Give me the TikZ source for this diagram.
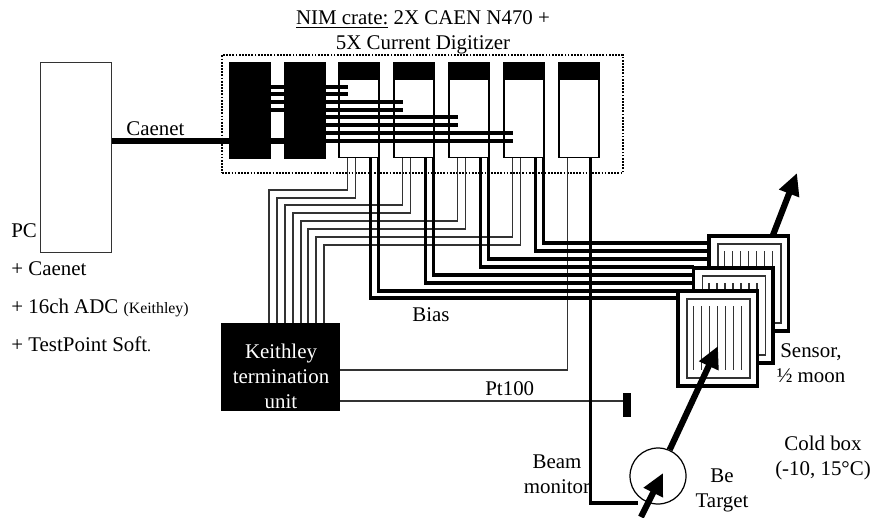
\documentclass[tikz,border=0pt]{standalone}
\usepackage{fontspec}
\setmainfont{Liberation Serif}
\usetikzlibrary{arrows.meta}
\newcommand{\moonstrips}{\draw[readwire] (15.5,15) -- (15.5,79) (23.5,15) -- (23.5,79) (31.5,15) -- (31.5,79) (39.5,15) -- (39.5,79) (47.5,15) -- (47.5,79) (55.5,15) -- (55.5,79) (63.5,15) -- (63.5,79);}
\tikzset{
  lbl/.style={inner sep=0pt,align=center,font=\fontsize{11.9}{14.2}\selectfont},
  lft/.style={inner sep=0pt,anchor=base west,font=\fontsize{11.9}{14.2}\selectfont},
  readwire/.style={line width=0.7pt,black!80},
  biaswire/.style={line width=1.85pt,black},
  busbar/.style={line width=1.85pt,black},
  caenet/.style={line width=3pt,black},
  beam/.style={line width=3.5pt,-{Triangle[length=12.5pt,width=11.5pt]}},
  blackmod/.style={draw,fill=black,inner sep=0pt,minimum width=0.82cm,minimum height=1.92cm},
  whitemod/.style={draw,line width=0.7pt,fill=white,inner sep=0pt,minimum width=0.8cm,minimum height=1.9cm},
  modhead/.style={fill=black,inner sep=0pt,minimum width=0.82cm,minimum height=0.36cm},
  outerpad/.style={draw,line width=1.85pt,fill=white,inner sep=0pt,minimum width=1.59cm,minimum height=1.9cm},
  innerpad/.style={draw,line width=0.7pt,black!80,inner sep=0pt,minimum width=1.26cm,minimum height=1.58cm}
}

\begin{document}
\begin{tikzpicture}[x=0.02cm,y=-0.02cm]

\useasboundingbox (0,0) rectangle (874,517);

\node[draw,line width=0.8pt,dash pattern=on 1pt off 0.8pt,inner sep=0pt,minimum width=8.02cm,minimum height=2.36cm] (crate) at (422.5,114) {};

\node[draw,line width=0.7pt,black!80,inner sep=0pt,minimum width=1.42cm,minimum height=3.79cm] (pc) at (76,157.5) {};

\node[blackmod] (m1) at (249.5,110) {};
\node[blackmod] (m2) at (304.5,110) {};

\node[whitemod] (m3) at (359,110) {};
\node[whitemod] (m4) at (414,110) {};
\node[whitemod] (m5) at (469,110) {};
\node[whitemod] (m6) at (524,110) {};
\node[whitemod] (m7) at (579,110) {};

\node[modhead] (h3) at (359.5,71) {};
\node[modhead] (h4) at (414.5,71) {};
\node[modhead] (h5) at (469.5,71) {};
\node[modhead] (h6) at (524.5,71) {};
\node[modhead] (h7) at (579.5,71) {};

\node[fill=black,inner sep=0pt,minimum width=2.38cm,minimum height=1.76cm] (keithley) at (280.5,367) {};

\node[fill=black,inner sep=0pt,minimum width=0.16cm,minimum height=0.48cm] (pt) at (627,405) {};

\node[circle,draw,line width=0.7pt,inner sep=0pt,minimum size=1.12cm] (target) at (658,476) {};

\coordinate (d1) at (348,87);
\coordinate (d2) at (348,94);
\coordinate (d3) at (403,102);
\coordinate (d4) at (403,110);
\coordinate (d5) at (458,117);
\coordinate (d6) at (458,125);
\coordinate (d7) at (513,133);
\coordinate (d8) at (513,141);

\coordinate (k1) at (269,323);
\coordinate (k2) at (277,323);
\coordinate (k3) at (285,323);
\coordinate (k4) at (293,323);
\coordinate (k5) at (301,323);
\coordinate (k6) at (308,323);
\coordinate (k7) at (316,323);
\coordinate (k8) at (324,323);

\coordinate (e1) at (678,298);
\coordinate (e2) at (678,291);
\coordinate (e3) at (694,283);
\coordinate (e4) at (694,275);
\coordinate (e5) at (694,267);
\coordinate (e6) at (709,259);
\coordinate (e7) at (709,251);
\coordinate (e8) at (709,243);

\coordinate (kt) at (340,370);
\coordinate (kp) at (340,401);
\coordinate (mon) at (638,503);
\coordinate (cn) at (229,141);

\coordinate (beamin) at (641,517);
\coordinate (beamstop) at (663,473);
\coordinate (beamhit) at (718,346);
\coordinate (beamexit) at (773,235);
\coordinate (beamout) at (797,173);

% Caenet and the links inside the crate
\draw[caenet] (pc.east |- cn) -- (cn);
\draw[caenet] (m1.east |- cn) -- (m2.west |- cn);

\draw[busbar] (m1.east |- d1) -- (d1);
\draw[busbar] (m1.east |- d2) -- (d2);
\draw[busbar] (m1.east |- d3) -- (d3);
\draw[busbar] (m1.east |- d4) -- (d4);
\draw[busbar] (m2.east |- d5) -- (d5);
\draw[busbar] (m2.east |- d6) -- (d6);
\draw[busbar] (m2.east |- d7) -- (d7);
\draw[busbar] (m2.east |- d8) -- (d8);

% readout
\draw[readwire] (m3.south west) ++(9,0) -- ++(0,32) -| (k1);
\draw[readwire] (m3.south west) ++(17,0) -- ++(0,40) -| (k2);
\draw[readwire] (m4.south west) ++(9,0) -- ++(0,47) -| (k3);
\draw[readwire] (m4.south west) ++(17,0) -- ++(0,55) -| (k4);
\draw[readwire] (m5.south west) ++(9,0) -- ++(0,63) -| (k5);
\draw[readwire] (m5.south west) ++(17,0) -- ++(0,71) -| (k6);
\draw[readwire] (m6.south west) ++(9,0) -- ++(0,79) -| (k7);
\draw[readwire] (m6.south west) ++(17,0) -- ++(0,87) -| (k8);
\draw[readwire] (m7.south west) ++(9,0) |- (kt);
\draw[readwire] (kp) -- (pt.west |- kp);

% bias
\draw[biaswire] (m3.south west) ++(32,0) |- (e1);
\draw[biaswire] (m3.south west) ++(40,0) |- (e2);
\draw[biaswire] (m4.south west) ++(32,0) |- (e3);
\draw[biaswire] (m4.south west) ++(40,0) |- (e4);
\draw[biaswire] (m5.south west) ++(32,0) |- (e5);
\draw[biaswire] (m5.south west) ++(40,0) |- (e6);
\draw[biaswire] (m6.south west) ++(32,0) |- (e7);
\draw[biaswire] (m6.south west) ++(40,0) |- (e8);
\draw[biaswire] (m7.south west) ++(32,0) |- (mon);

\begin{scope}[shift={(709,236)}]
\node[outerpad] (s1) at (39.75,47.5) {};
\node[innerpad] (i1) at (40.5,47.5) {};
\moonstrips
\end{scope}

\begin{scope}[shift={(693.5,268)}]
\node[outerpad] (s2) at (39.75,47.5) {};
\node[innerpad] (i2) at (40.5,47.5) {};
\moonstrips
\end{scope}

\begin{scope}[shift={(678,291)}]
\node[outerpad] (s3) at (39.75,47.5) {};
\node[innerpad] (i3) at (40.5,47.5) {};
\moonstrips
\end{scope}

\draw[beam] (beamin) -- (beamstop);
\draw[beam] (target.66) -- (beamhit);
\draw[beam] (beamexit) -- (beamout);

\node[lbl] (title) at (423,32) {\underline{NIM crate:} 2X CAEN N470 +\\5X Current Digitizer};

\node[lft] (lcaenet) at (126,135) {Caenet};
\node[lft] (lpc) at (11,237) {PC};
\node[lft] (lplus1) at (11,275) {+ Caenet};
\node[lft] (lplus2) at (11,313) {+ 16ch ADC {\fontsize{9}{11}\selectfont (Keithley)}};
\node[lft] (lplus3) at (11,351) {+ TestPoint Soft{\fontsize{9}{11}\selectfont .}};
\node[lft] (lbias) at (412,321) {Bias};
\node[lft] (lpt) at (485,395) {Pt100};

\node[lbl,text=white] (lkeith) at (281,376) {Keithley\\termination\\unit};
\node[lbl] (lbeam) at (557,474) {Beam\\monitor};
\node[lbl] (lbe) at (722,490) {Be\\Target};
\node[lbl] (lsensor) at (811,363) {Sensor,\\½ moon};
\node[lbl] (lcold) at (823,458) {Cold box\\(-10, 15°C)};

\end{tikzpicture}
\end{document}
